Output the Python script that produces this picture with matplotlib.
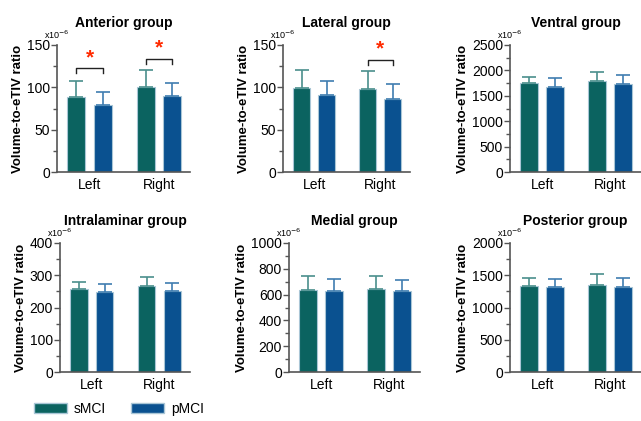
import matplotlib
matplotlib.use("Agg")
import matplotlib.pyplot as plt
from matplotlib.patches import Patch

plt.rcParams['font.family'] = ['Liberation Sans', 'DejaVu Sans']

sides = ["Left", "Right"]
titles = ["Anterior group", "Lateral group", "Ventral group",
          "Intralaminar group", "Medial group", "Posterior group"]

# means (x10^-6), Left/Right
smci_mean = [[88, 100], [99, 98], [1747, 1793], [257, 266], [636, 647], [1335, 1356]]
pmci_mean = [[79, 90], [91, 86], [1682, 1728], [248, 250], [629, 629], [1314, 1314]]
# upper SD
smci_sd = [[20, 20], [21, 21], [131, 177], [23, 28], [107, 98], [130, 166]]
pmci_sd = [[15, 15], [17, 18], [177, 176], [26, 26], [90, 88], [135, 141]]

ymax = [150, 150, 2500, 400, 1000, 2000]
major = [50, 50, 500, 100, 200, 500]
minor = [25, 25, 250, 50, 100, 250]

# significance: (panel, side index, bracket y, star y)
sig = [(0, 0, 122.5, 135), (0, 1, 133, 146), (1, 1, 132, 145)]

c_s = "#0b6360"
c_p = "#0a5190"
e_s = "#4a8f8c"
e_p = "#3f7db0"

W, H = 641, 421
fig = plt.figure(figsize=(W / 100, H / 100), dpi=100)

# axes boxes in pixels: left, bottom(y0 px from top), right, top
boxes = [(57, 172, 190, 45), (283, 172, 410, 45), (510, 172, 641, 45),
         (60, 372, 190, 243), (289, 372, 420, 243), (510, 372, 641, 243)]

off = 0.19
bw = 0.26
for i, (l, b, r, t) in enumerate(boxes):
    ax = fig.add_axes([l / W, 1 - b / H, (r - l) / W, (b - t) / H])
    for k in range(2):
        x = k
        ax.bar(x - off, smci_mean[i][k], bw, color=c_s, edgecolor="#a9c6d6", linewidth=0.8, zorder=2)
        ax.bar(x + off, pmci_mean[i][k], bw, color=c_p, edgecolor="#a9c6d6", linewidth=0.8, zorder=2)
        ax.errorbar(x - off, smci_mean[i][k], yerr=[[0], [smci_sd[i][k]]], color=e_s,
                    capsize=5, elinewidth=1.2, capthick=1.2, zorder=3)
        ax.errorbar(x + off, pmci_mean[i][k], yerr=[[0], [pmci_sd[i][k]]], color=e_p,
                    capsize=5, elinewidth=1.2, capthick=1.2, zorder=3)
    ax.set_xlim(-0.47, 1.45)
    ax.set_ylim(0, ymax[i])
    ax.set_yticks(range(0, ymax[i] + 1, major[i]))
    ax.set_yticks(range(0, ymax[i] + 1, minor[i]), minor=True)
    ax.set_xticks([0, 1])
    ax.set_xticklabels(sides, fontsize=10)
    ax.tick_params(axis='x', length=0, pad=4)
    ax.tick_params(axis='y', labelsize=10, length=4, width=1, color="#555555", pad=1)
    ax.tick_params(axis='y', which='minor', length=3, width=1, color="#555555")
    for s in ["top", "right"]:
        ax.spines[s].set_visible(False)
    for s in ["left", "bottom"]:
        ax.spines[s].set_color("#555555")
        ax.spines[s].set_linewidth(1.2)
    ax.spines["left"].set_bounds(0, ymax[i])
    ax.set_ylabel("Volume-to-eTIV ratio", fontsize=9.5, fontweight="bold", labelpad=2)
    ax.set_title(titles[i], fontsize=10, fontweight="bold", pad=13)
    ax.text(0.0, 1.03, r"x10$^{-6}$", transform=ax.transAxes, fontsize=6.5,
            ha="center", va="bottom")
    for p, k, yb, ys in sig:
        if p == i:
            tick = ymax[i] * 0.04
            ax.plot([k - off, k - off, k + off, k + off], [yb - tick, yb, yb, yb - tick],
                    color="#222222", lw=1)
            ax.text(k, ys, "*", color="#ff2a00", fontsize=15, fontweight="bold",
                    ha="center", va="center")

handles = [Patch(facecolor=c_s, edgecolor="#a9c6d6"), Patch(facecolor=c_p, edgecolor="#a9c6d6")]
fig.legend(handles, ["sMCI", "pMCI"], loc="center left", bbox_to_anchor=(21 / W, 1 - 409 / H),
           ncol=2, frameon=False, fontsize=10, handlelength=2.4, handleheight=0.75,
           handletextpad=0.5, columnspacing=1.8, borderpad=0.4)

fig.savefig("out.png", dpi=100)
